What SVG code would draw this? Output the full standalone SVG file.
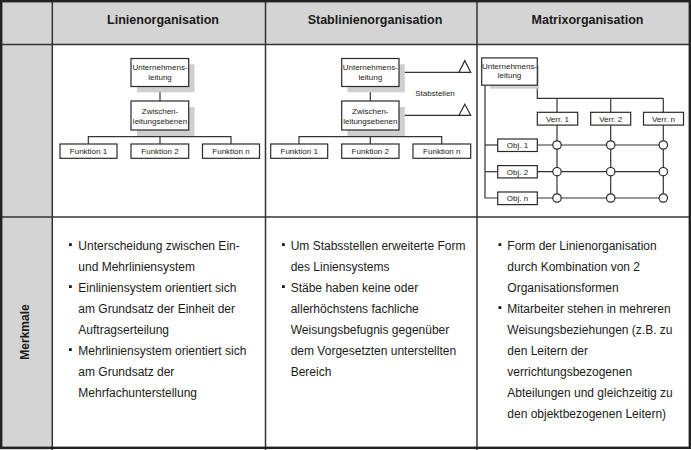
<svg xmlns="http://www.w3.org/2000/svg" width="691" height="450" viewBox="0 0 691 450">
<style>
.grid{stroke:#333;stroke-width:1.5;fill:none}
.hd{font-family:"Liberation Sans",Arial,sans-serif;font-size:12.5px;font-weight:bold;fill:#1a1a1a;text-anchor:middle}
.body{font-family:"Liberation Sans",Arial,sans-serif;font-size:12px;fill:#1a1a1a}
.lbl{font-family:"Liberation Sans",Arial,sans-serif;font-size:8px;fill:#1a1a1a;text-anchor:middle}
.box{fill:#fff;stroke:#2a2a2a;stroke-width:1.2}
.sh{fill:#cfcfcf}
.ln{stroke:#333;stroke-width:1.2;fill:none}
.tri{fill:#fff;stroke:#2a2a2a;stroke-width:1.2}
.dot{fill:#fff;stroke:#2a2a2a;stroke-width:1.2}
.bul{fill:#1a1a1a}
</style>
<rect x="0" y="0" width="691" height="450" fill="#fff"/>
<g id="table">
<rect x="0" y="0" width="691" height="44.5" fill="#d4d4d4"/>
<rect x="0" y="0" width="52.3" height="450" fill="#d4d4d4"/>
<line class="grid" x1="52.3" y1="0" x2="52.3" y2="450"/>
<line class="grid" x1="265.5" y1="0" x2="265.5" y2="450"/>
<line class="grid" x1="477" y1="0" x2="477" y2="450"/>
<line class="grid" x1="0" y1="44.5" x2="691" y2="44.5"/>
<line class="grid" x1="0" y1="217" x2="691" y2="217"/>
<rect x="1.2" y="1.2" width="688.6" height="446.6" fill="none" stroke="#222" stroke-width="2.4"/>
<text class="hd" x="163" y="24">Linienorganisation</text>
<text class="hd" x="375" y="24">Stablinienorganisation</text>
<text class="hd" x="587.5" y="24">Matrixorganisation</text>
<text class="hd" transform="translate(29,332) rotate(-90)" x="0" y="0" style="font-size:12px">Merkmale</text>
</g>
<g id="connectors">
<line class="ln" x1="160" y1="86.5" x2="160" y2="101"/>
<polyline class="ln" points="160,130 160,144"/>
<polyline class="ln" points="88.3,144 88.3,136.7 231,136.7 231,144"/>
<line class="ln" x1="370.3" y1="86.5" x2="370.3" y2="101"/>
<line class="ln" x1="370.3" y1="130" x2="370.3" y2="144"/>
<polyline class="ln" points="299,144 299,136.7 441.7,136.7 441.7,144"/>
<line class="ln" x1="399" y1="72.3" x2="459" y2="72.3"/>
<line class="ln" x1="399" y1="115.3" x2="459" y2="115.3"/>
<polyline class="ln" points="537.3,85 537.3,98.3 663.3,98.3"/>
<line class="ln" x1="557" y1="98.3" x2="557" y2="198"/>
<line class="ln" x1="610.7" y1="98.3" x2="610.7" y2="198"/>
<line class="ln" x1="663.3" y1="98.3" x2="663.3" y2="198"/>
<polyline class="ln" points="485,85 485,198 497.7,198"/>
<line class="ln" x1="485" y1="145" x2="497.7" y2="145"/>
<line class="ln" x1="485" y1="171.7" x2="497.7" y2="171.7"/>
<line class="ln" x1="537.3" y1="145" x2="663.3" y2="145"/>
<line class="ln" x1="537.3" y1="171.7" x2="663.3" y2="171.7"/>
<line class="ln" x1="537.3" y1="198" x2="663.3" y2="198"/>
</g>
<g id="d1-leitung">
<rect class="sh" x="137" y="64.3" width="57.5" height="28"/>
<rect class="box" x="131" y="58.5" width="57.7" height="28"/>
<text class="lbl" x="160" y="70.1">Unternehmens-</text>
<text class="lbl" x="160" y="80.1">leitung</text>
</g>
<g id="d1-zwischen">
<rect class="sh" x="137" y="107" width="57.5" height="29"/>
<rect class="box" x="131" y="101" width="57.7" height="29"/>
<text class="lbl" x="160" y="113.5">Zwischen-</text>
<text class="lbl" x="160" y="123.5">leitungsebenen</text>
</g>
<g id="d1-f1"><rect class="box" x="60" y="144" width="57" height="14.3"/><text class="lbl" x="88.5" y="154">Funktion 1</text></g>
<g id="d1-f2"><rect class="box" x="131" y="144" width="57.7" height="14.3"/><text class="lbl" x="160" y="154">Funktion 2</text></g>
<g id="d1-fn"><rect class="box" x="202.5" y="144" width="57" height="14.3"/><text class="lbl" x="231" y="154">Funktion n</text></g>
<g id="d2-leitung">
<rect class="sh" x="347.5" y="64.3" width="57.3" height="28"/>
<rect class="box" x="341.7" y="58.5" width="57.3" height="28"/>
<text class="lbl" x="370.3" y="70.1">Unternehmens-</text>
<text class="lbl" x="370.3" y="80.1">leitung</text>
</g>
<g id="d2-zwischen">
<rect class="sh" x="347.5" y="107" width="57.3" height="29"/>
<rect class="box" x="341.7" y="101" width="57.3" height="29"/>
<text class="lbl" x="370.3" y="113.5">Zwischen-</text>
<text class="lbl" x="370.3" y="123.5">leitungsebenen</text>
</g>
<g id="d2-stab1"><polygon class="tri" points="459,72.3 464.8,60.7 470.7,72.3"/></g>
<g id="d2-stab2"><polygon class="tri" points="459,115.3 464.8,104.3 470.7,115.3"/></g>
<g id="d2-stablabel"><text class="lbl" x="435" y="96">Stabstellen</text></g>
<g id="d2-f1"><rect class="box" x="270.7" y="144" width="57" height="14.3"/><text class="lbl" x="299.2" y="154">Funktion 1</text></g>
<g id="d2-f2"><rect class="box" x="341.7" y="144" width="57.3" height="14.3"/><text class="lbl" x="370.3" y="154">Funktion 2</text></g>
<g id="d2-fn"><rect class="box" x="413" y="144" width="57.7" height="14.3"/><text class="lbl" x="441.8" y="154">Funktion n</text></g>
<g id="d3-leitung">
<rect class="sh" x="490" y="65.3" width="49" height="23.4"/>
<rect class="box" x="481.7" y="57.9" width="55.6" height="27.3"/>
<text class="lbl" x="509.5" y="68.6">Unternehmens-</text>
<text class="lbl" x="509.5" y="78">leitung</text>
</g>
<g id="d3-v1"><rect class="box" x="537.3" y="112.3" width="40.4" height="12.8"/><text class="lbl" x="557.5" y="121.5">Verr. 1</text></g>
<g id="d3-v2"><rect class="box" x="590.7" y="112.3" width="40" height="12.8"/><text class="lbl" x="610.7" y="121.5">Verr. 2</text></g>
<g id="d3-vn"><rect class="box" x="643.5" y="112.3" width="40" height="12.8"/><text class="lbl" x="663.5" y="121.5">Verr. n</text></g>
<g id="d3-o1"><rect class="box" x="497.7" y="139" width="39.6" height="12.5"/><text class="lbl" x="517.5" y="148">Obj. 1</text></g>
<g id="d3-o2"><rect class="box" x="497.7" y="165.6" width="39.6" height="12.3"/><text class="lbl" x="517.5" y="174.6">Obj. 2</text></g>
<g id="d3-on"><rect class="box" x="497.7" y="192" width="39.6" height="12.6"/><text class="lbl" x="517.5" y="201">Obj. n</text></g>
<g id="d3-nodes">
<circle class="dot" cx="557" cy="145" r="4.2"/><circle class="dot" cx="610.7" cy="145" r="4.2"/><circle class="dot" cx="663.3" cy="145" r="4.2"/>
<circle class="dot" cx="557" cy="171.7" r="4.2"/><circle class="dot" cx="610.7" cy="171.7" r="4.2"/><circle class="dot" cx="663.3" cy="171.7" r="4.2"/>
<circle class="dot" cx="557" cy="198" r="4.2"/><circle class="dot" cx="610.7" cy="198" r="4.2"/><circle class="dot" cx="663.3" cy="198" r="4.2"/>
</g>
<g id="text-col1">
<rect class="bul" x="69" y="243.2" width="2.8" height="2.8"/>
<rect class="bul" x="69" y="285.2" width="2.8" height="2.8"/>
<rect class="bul" x="69" y="348.2" width="2.8" height="2.8"/>
<text class="body">
<tspan x="78.3" y="249.5">Unterscheidung zwischen Ein-</tspan>
<tspan x="78.3" y="270.5">und Mehrliniensystem</tspan>
<tspan x="78.3" y="291.5">Einliniensystem orientiert sich</tspan>
<tspan x="78.3" y="312.5">am Grundsatz der Einheit der</tspan>
<tspan x="78.3" y="333.5">Auftragserteilung</tspan>
<tspan x="78.3" y="354.5">Mehrliniensystem orientiert sich</tspan>
<tspan x="78.3" y="375.5">am Grundsatz der</tspan>
<tspan x="78.3" y="396.5">Mehrfachunterstellung</tspan>
</text>
</g>
<g id="text-col2">
<rect class="bul" x="282" y="243.2" width="2.8" height="2.8"/>
<rect class="bul" x="282" y="285.2" width="2.8" height="2.8"/>
<text class="body">
<tspan x="290.7" y="249.5">Um Stabsstellen erweiterte Form</tspan>
<tspan x="290.7" y="270.5">des Liniensystems</tspan>
<tspan x="290.7" y="291.5">Stäbe haben keine oder</tspan>
<tspan x="290.7" y="312.5">allerhöchstens fachliche</tspan>
<tspan x="290.7" y="333.5">Weisungsbefugnis gegenüber</tspan>
<tspan x="290.7" y="354.5">dem Vorgesetzten unterstellten</tspan>
<tspan x="290.7" y="375.5">Bereich</tspan>
</text>
</g>
<g id="text-col3">
<rect class="bul" x="498.5" y="243.2" width="2.8" height="2.8"/>
<rect class="bul" x="498.5" y="306.2" width="2.8" height="2.8"/>
<text class="body">
<tspan x="507.3" y="249.5">Form der Linienorganisation</tspan>
<tspan x="507.3" y="270.5">durch Kombination von 2</tspan>
<tspan x="507.3" y="291.5">Organisationsformen</tspan>
<tspan x="507.3" y="312.5">Mitarbeiter stehen in mehreren</tspan>
<tspan x="507.3" y="333.5">Weisungsbeziehungen (z.B. zu</tspan>
<tspan x="507.3" y="354.5">den Leitern der</tspan>
<tspan x="507.3" y="375.5">verrichtungsbezogenen</tspan>
<tspan x="507.3" y="396.5">Abteilungen und gleichzeitig zu</tspan>
<tspan x="507.3" y="417.5">den objektbezogenen Leitern)</tspan>
</text>
</g>
</svg>
